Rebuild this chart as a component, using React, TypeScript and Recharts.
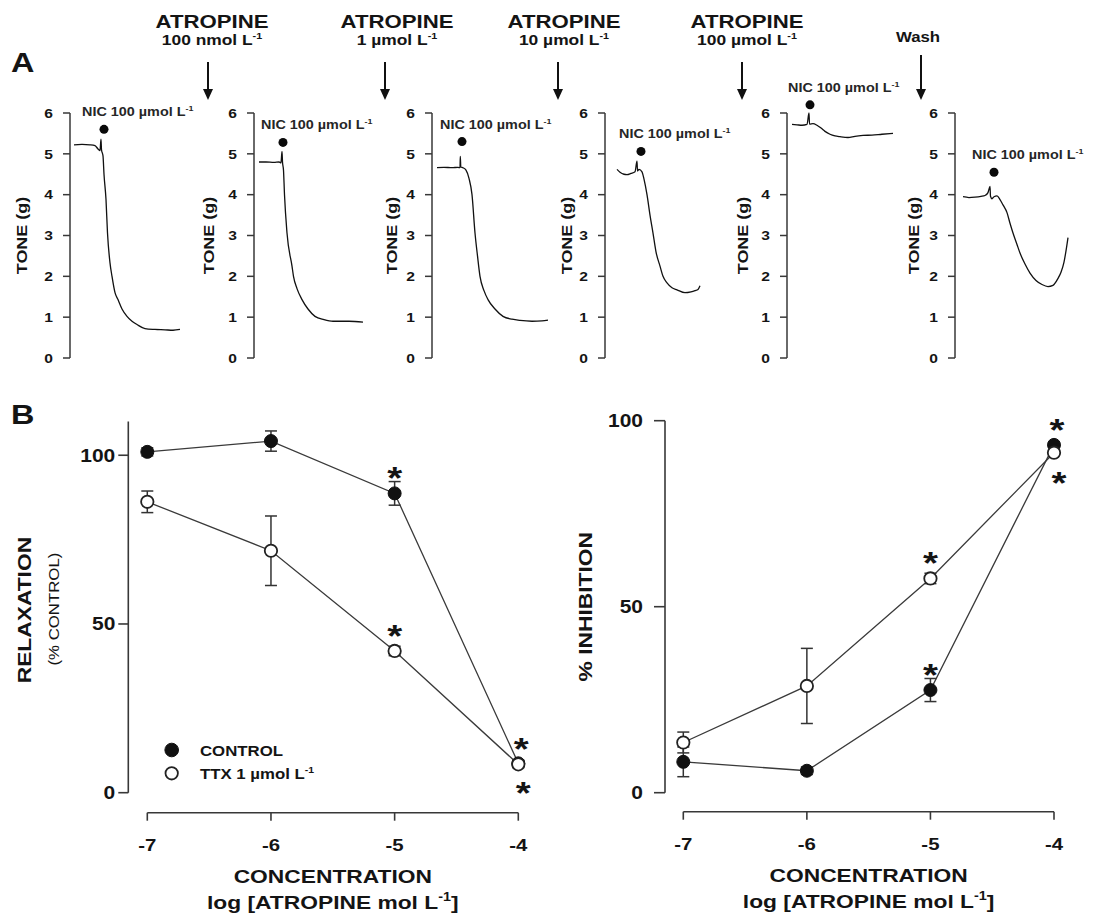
import React from "react";
import { LineChart, Line, XAxis, YAxis, ErrorBar, LabelList, ReferenceDot } from "recharts";

const FONT = "'Liberation Sans', Arial, Helvetica, sans-serif";
const SX = 1.2;
const INK = "#141414";
const AXIS_INK = "#383838";

// ---------------- Panel A data (time in s from trace start, tone in g) ----------------
const trace1: [number, number][] = [[4,5.22],[12,5.23],[20,5.22],[25,5.2],[28,5.12],[30,5.08],[31,5.36],[31.5,5.1],[33,4.95],[34,4.5],[36,3.88],[37.5,3.06],[40,2.33],[42,2.0],[45,1.6],[48,1.43],[52,1.2],[57,1.02],[62,0.9],[67,0.82],[75,0.72],[85,0.7],[95,0.69],[103,0.68],[110,0.7]];
const trace2: [number, number][] = [[5,4.8],[12,4.8],[20,4.79],[25,4.8],[27,4.78],[28,5.06],[28.5,4.8],[29.5,4.6],[30.5,4.0],[33,3.06],[38,2.25],[39.5,2.0],[43,1.7],[48,1.43],[54,1.2],[61,1.02],[70,0.94],[79,0.9],[95,0.9],[109,0.88]];
const trace3: [number, number][] = [[5,4.66],[12,4.67],[20,4.66],[26,4.67],[28,4.66],[28.3,4.94],[28.8,4.68],[31,4.66],[34,4.6],[37,4.4],[40,4.0],[43,3.06],[45.5,2.5],[48,2.0],[52,1.65],[56,1.43],[63,1.2],[71,1.02],[80,0.95],[88,0.92],[100,0.9],[110,0.91],[116,0.93]];
const trace4: [number, number][] = [[12,4.62],[15,4.55],[19,4.5],[22,4.49],[26,4.52],[30,4.56],[32,4.82],[32.5,4.58],[34,4.62],[37,4.56],[39,4.38],[42,4.0],[45,3.5],[48,3.06],[51,2.6],[55,2.25],[58,2.0],[62,1.84],[67,1.72],[72,1.67],[80,1.6],[86,1.62],[90,1.65],[93,1.68],[95,1.77]];
const trace5: [number, number][] = [[5,5.72],[10,5.71],[15,5.7],[20,5.72],[22,6.0],[22.5,5.73],[26,5.74],[30,5.7],[34,5.63],[38,5.55],[43,5.48],[48,5.44],[53,5.42],[61,5.4],[68,5.43],[76,5.45],[85,5.46],[95,5.48],[106,5.5]];
const trace6: [number, number][] = [[8,3.95],[14,3.93],[20,3.94],[26,3.96],[30,3.98],[33,4.05],[35,4.2],[35.5,3.96],[37,3.9],[39,3.95],[42,3.97],[45,3.88],[48,3.75],[52,3.56],[55,3.3],[58,3.06],[62,2.78],[65,2.57],[70,2.3],[75,2.08],[81,1.9],[87,1.8],[93,1.75],[98,1.78],[103,1.95],[106,2.1],[109,2.35],[113,2.95]];
const traces = [trace1, trace2, trace3, trace4, trace5, trace6];
const nicTime = [34, 29, 30, 36, 23, 39];
const nicTone = [5.6, 5.28, 5.3, 5.06, 6.2, 4.55];
const toneTicks = [0, 1, 2, 3, 4, 5, 6];
const atropineDoses = ["100 nmol L", "1 \u00b5mol L", "10 \u00b5mol L", "100 \u00b5mol L"];

// ---------------- Panel B data ----------------
const concentrations = [-7, -6, -5, -4];
const relaxControl = [101.0, 104.2, 88.7, 8.7];
const relaxControlSem = [1.2, 3.0, 3.5, 1.0];
const relaxTtx = [86.2, 71.7, 42.0, 8.4];
const relaxTtxSem = [3.2, 10.3, 1.4, 1.0];
const relaxControlStar = ["", "", "above", "below"];
const relaxTtxStar = ["", "", "above", "above"];
const inhibControl = [8.3, 5.9, 27.6, 93.5];
const inhibControlSem = [4.0, 1.0, 3.1, 0.8];
const inhibTtx = [13.5, 28.7, 57.6, 91.4];
const inhibTtxSem = [2.8, 10.1, 1.4, 0.8];
const inhibControlStar = ["", "", "above", "above"];
const inhibTtxStar = ["", "", "above", "below"];
const seriesNames = ["CONTROL", "TTX 1 \u00b5mol L"];

// ---------------- layout (positions only) ----------------
const A_AXIS_X = [70, 254, 432, 605, 787, 955];
const A_TITLE_DX = [-48, -45, -40, -38, -44, -41];
const A_YAXIS_W = 62;
const DOSE_CX = [212, 397, 564, 747];
const ARROW_X = [208, 385, 558, 742];

function buildRows(c: number[], cs: number[], cst: string[], t: number[], ts: number[], tst: string[]) {
  return concentrations.map((x, i) => ({
    x, control: c[i], controlSem: cs[i], controlStar: cst[i], ttx: t[i], ttxSem: ts[i], ttxStar: tst[i],
  }));
}
const relaxRows = buildRows(relaxControl, relaxControlSem, relaxControlStar, relaxTtx, relaxTtxSem, relaxTtxStar);
const inhibRows = buildRows(inhibControl, inhibControlSem, inhibControlStar, inhibTtx, inhibTtxSem, inhibTtxStar);

function SText({ x, y, size, weight = "bold", anchor = "start", rotate = 0, fill = INK, children }: any) {
  return (
    <text
      transform={`translate(${x},${y}) rotate(${rotate}) scale(${SX},1)`}
      textAnchor={anchor}
      fontFamily={FONT}
      fontSize={size}
      fontWeight={weight}
      fill={fill}
    >
      {children}
    </text>
  );
}

function Sup({ size }: { size: number }) {
  return (
    <tspan dy={-size * 0.42} fontSize={size * 0.62}>
      -1
    </tspan>
  );
}

// ---------------- Panel A pieces ----------------
const ToneTick = (props: any) => {
  const { x, y, payload } = props;
  return (
    <SText x={x} y={y + 13 * 0.36} size={13} anchor="end">
      {payload.value}
    </SText>
  );
};

const ToneTitle = (props: any) => {
  const vb = props.viewBox || { x: 0, y: 0, width: 0, height: 0 };
  const cx = vb.x + vb.width + props.shift;
  const cy = vb.y + vb.height / 2;
  return (
    <SText x={cx + 15 * 0.36} y={cy} size={15} anchor="middle" rotate={-90}>
      TONE (g)
    </SText>
  );
};

const NicLabel = (props: any) => {
  const vb = props.viewBox || { x: 0, y: 0, width: 0, height: 0 };
  const cx = vb.x + (vb.width || 0) / 2;
  const cy = vb.y + (vb.height || 0) / 2;
  return (
    <SText x={cx - 22} y={cy - 13} size={12} fill="#262626">
      NIC 100 {"\u00b5"}mol L<Sup size={12} />
    </SText>
  );
};

function TraceChart({ i }: { i: number }) {
  const data = traces[i].map(([t, v]) => ({ t, v }));
  const ax = A_AXIS_X[i];
  return (
    <div style={{ position: "absolute", left: ax - A_YAXIS_W, top: 60 }}>
      <LineChart width={A_YAXIS_W + 150} height={318} data={data} margin={{ top: 53, right: 20, bottom: 20, left: 0 }}>
        <XAxis type="number" dataKey="t" domain={[0, 130]} hide height={0} />
        <YAxis
          type="number"
          domain={[0, 6]}
          ticks={toneTicks}
          interval={0}
          width={A_YAXIS_W}
          tickSize={7}
          tickMargin={10}
          axisLine={{ stroke: AXIS_INK, strokeWidth: 1.5 }}
          tickLine={{ stroke: AXIS_INK, strokeWidth: 1.5 }}
          tick={<ToneTick />}
          label={<ToneTitle shift={A_TITLE_DX[i]} />}
        />
        <Line type="monotone" dataKey="v" stroke="#111" strokeWidth={1.3} dot={false} activeDot={false} isAnimationActive={false} />
        <ReferenceDot x={nicTime[i]} y={nicTone[i]} r={4.5} fill="#0a0a0a" stroke="none" ifOverflow="visible" label={<NicLabel />} />
      </LineChart>
    </div>
  );
}

// ---------------- Panel B pieces ----------------
const DoseYTick = (props: any) => {
  const { x, y, payload } = props;
  return (
    <SText x={x} y={y + 17.5 * 0.36} size={17.5} anchor="end">
      {payload.value}
    </SText>
  );
};

const DoseXTick = (props: any) => {
  const { x, y, payload } = props;
  return (
    <SText x={x} y={y + 17 * 0.72} size={17} anchor="middle">
      {payload.value}
    </SText>
  );
};

const XTitle = (props: any) => {
  const vb = props.viewBox || { x: 0, y: 0, width: 0, height: 0 };
  const cx = vb.x + vb.width / 2;
  return (
    <g>
      <SText x={cx} y={vb.y + 70} size={19} anchor="middle">
        CONCENTRATION
      </SText>
      <SText x={cx} y={vb.y + 96} size={19} anchor="middle">
        log [ATROPINE mol L
        <tspan dy={-8} fontSize={12}>-1</tspan>
        <tspan dy={8} fontSize={19}>]</tspan>
      </SText>
    </g>
  );
};

const RelaxTitle = (props: any) => {
  const vb = props.viewBox || { x: 0, y: 0, width: 0, height: 0 };
  const cy = vb.y + vb.height / 2 + 2;
  return (
    <g>
      <SText x={vb.x + 24 + 19 * 0.36} y={cy + 1} size={19} anchor="middle" rotate={-90}>
        RELAXATION
      </SText>
      <SText x={vb.x + 54 + 14 * 0.36} y={cy} size={14} weight="normal" anchor="middle" rotate={-90}>
        (% CONTROL)
      </SText>
    </g>
  );
};

const InhibTitle = (props: any) => {
  const vb = props.viewBox || { x: 0, y: 0, width: 0, height: 0 };
  const cy = vb.y + vb.height / 2;
  return (
    <SText x={vb.x + 25 + 19 * 0.36} y={cy} size={19} anchor="middle" rotate={-90}>
      % INHIBITION
    </SText>
  );
};

const StarMark = (props: any) => {
  const { value, index } = props;
  if (!value) return null;
  const vb = props.viewBox || {};
  const px = vb.x != null ? vb.x + (vb.width || 0) / 2 : props.x;
  const py = vb.y != null ? vb.y + (vb.height || 0) / 2 : props.y;
  const below = value === "below";
  const dx = index === 3 ? (below ? 5 : 3) : 0;
  const cy = below ? py + 23 : py - 22;
  return (
    <SText x={px + dx} y={cy + 32 * 0.56} size={32} anchor="middle">
      *
    </SText>
  );
};

type DoseProps = {
  left: number;
  width: number;
  yAxisWidth: number;
  xPad: number;
  marginTop: number;
  marginRight: number;
  yMax: number;
  yTickSize: number;
  yTickMargin: number;
  xAxisHeight: number;
  rows: any[];
  yTitle: React.ReactElement;
};

function DosePanel(p: DoseProps) {
  const top = 400;
  return (
    <>
      <div style={{ position: "absolute", left: p.left, top }}>
        <LineChart width={p.width} height={420} data={p.rows} margin={{ top: p.marginTop, right: p.marginRight, bottom: 27.3, left: 0 }}>
          <XAxis type="number" dataKey="x" domain={[-7, -4]} hide height={0} padding={{ left: p.xPad, right: 0 }} />
          <YAxis
            type="number"
            domain={[0, p.yMax]}
            ticks={[0, 50, 100]}
            interval={0}
            width={p.yAxisWidth}
            tickSize={p.yTickSize}
            tickMargin={p.yTickMargin}
            axisLine={{ stroke: AXIS_INK, strokeWidth: 1.6 }}
            tickLine={{ stroke: AXIS_INK, strokeWidth: 1.6 }}
            tick={<DoseYTick />}
            label={p.yTitle}
          />
          <Line
            type="linear"
            dataKey="control"
            stroke="#3a3a3a"
            strokeWidth={1.3}
            dot={{ r: 6.5, fill: "#111", stroke: "#111", strokeWidth: 1 }}
            activeDot={false}
            isAnimationActive={false}
          >
            <ErrorBar dataKey="controlSem" width={6} stroke="#333" strokeWidth={1.5} direction="y" />
            <LabelList dataKey="controlStar" content={<StarMark />} />
          </Line>
          <Line
            type="linear"
            dataKey="ttx"
            stroke="#3a3a3a"
            strokeWidth={1.3}
            dot={{ r: 6.2, fill: "#fff", stroke: "#222", strokeWidth: 1.8 }}
            activeDot={false}
            isAnimationActive={false}
          >
            <ErrorBar dataKey="ttxSem" width={6} stroke="#333" strokeWidth={1.5} direction="y" />
            <LabelList dataKey="ttxStar" content={<StarMark />} />
          </Line>
        </LineChart>
      </div>
      <div style={{ position: "absolute", left: p.left, top }}>
        <LineChart width={p.width} height={515} data={p.rows} margin={{ top: p.marginTop, right: p.marginRight, bottom: 0, left: p.yAxisWidth + p.xPad }}>
          <XAxis
            type="number"
            dataKey="x"
            domain={[-7, -4]}
            ticks={concentrations}
            interval={0}
            height={p.xAxisHeight}
            tickSize={8}
            tickMargin={18.5}
            axisLine={{ stroke: AXIS_INK, strokeWidth: 1.6 }}
            tickLine={{ stroke: AXIS_INK, strokeWidth: 1.6 }}
            tick={<DoseXTick />}
            label={<XTitle />}
          />
          <YAxis type="number" domain={[0, p.yMax]} hide width={0} />
        </LineChart>
      </div>
    </>
  );
}

function Arrow({ x, y1, y2 }: { x: number; y1: number; y2: number }) {
  return (
    <g>
      <line x1={x} y1={y1} x2={x} y2={y2 - 8} stroke="#111" strokeWidth={2} />
      <polygon points={`${x - 5},${y2 - 11} ${x + 5},${y2 - 11} ${x},${y2}`} fill="#111" />
    </g>
  );
}

function Overlay() {
  return (
    <svg width={1106} height={915} style={{ position: "absolute", left: 0, top: 0, pointerEvents: "none" }}>
      <SText x={11} y={72} size={27}>A</SText>
      <SText x={11} y={424} size={27}>B</SText>
      {atropineDoses.map((d, i) => (
        <g key={d}>
          <SText x={DOSE_CX[i]} y={28} size={18.5} anchor="middle">
            ATROPINE
          </SText>
          <SText x={DOSE_CX[i]} y={45} size={14.5} anchor="middle">
            {d}
            <Sup size={14.5} />
          </SText>
          <Arrow x={ARROW_X[i]} y1={62} y2={100} />
        </g>
      ))}
      <SText x={918} y={42} size={14} anchor="middle">
        Wash
      </SText>
      <Arrow x={921} y1={55} y2={100} />
      {/* legend */}
      <circle cx={171.7} cy={750} r={6.8} fill="#111" stroke="#111" strokeWidth={1} />
      <SText x={200} y={756} size={14}>
        {seriesNames[0]}
      </SText>
      <circle cx={171.7} cy={773.3} r={6.2} fill="#fff" stroke="#222" strokeWidth={1.8} />
      <SText x={200} y={779} size={14}>
        {seriesNames[1]}
        <Sup size={14} />
      </SText>
    </svg>
  );
}

export default function App() {
  return (
    <div style={{ position: "absolute", left: 0, top: 0, width: 1106, height: 915, background: "#fff", overflow: "hidden" }}>
      {traces.map((_, i) => (
        <TraceChart key={i} i={i} />
      ))}
      <DosePanel
        left={0}
        width={540}
        yAxisWidth={128.3}
        xPad={19}
        marginTop={21.5}
        marginRight={21.7}
        yMax={110}
        yTickSize={10}
        yTickMargin={3}
        xAxisHeight={102.3}
        rows={relaxRows}
        yTitle={<RelaxTitle />}
      />
      <DosePanel
        left={560}
        width={520}
        yAxisWidth={105}
        xPad={18.3}
        marginTop={20.7}
        marginRight={26}
        yMax={100}
        yTickSize={11}
        yTickMargin={11}
        xAxisHeight={103.3}
        rows={inhibRows}
        yTitle={<InhibTitle />}
      />
      <Overlay />
    </div>
  );
}
